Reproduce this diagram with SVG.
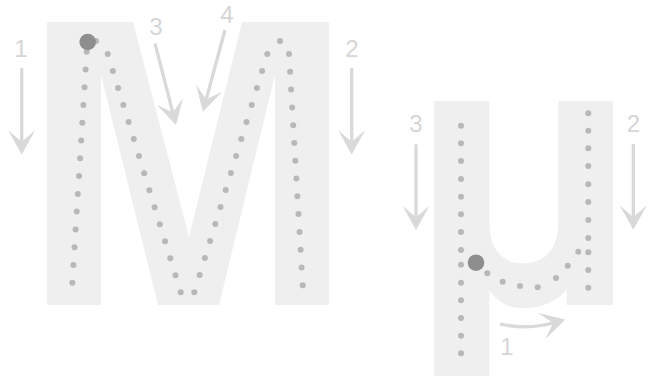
<svg xmlns="http://www.w3.org/2000/svg" width="652" height="377" viewBox="0 0 652 377">
<style>
.glyph{fill:#efefef;stroke:none}
.d circle{fill:#b8b8b8}
.start{fill:#8e8e8e}
.arr{fill:none;stroke:#d9d9d9;stroke-width:3.3;marker-end:url(#ah)}
.num{font-family:"Liberation Sans",Arial,sans-serif;font-size:24px;fill:#d6d6d6;text-anchor:middle}
</style>
<defs>
<marker id="ah" markerUnits="userSpaceOnUse" markerWidth="30" markerHeight="30" viewBox="-12 -13 25 26" refX="0" refY="0" orient="auto">
<path d="M11,0 L-10,-11.7 L0,0 L-10,11.7 Z" fill="#d9d9d9"/>
</marker>
</defs>
<rect width="652" height="377" fill="#ffffff"/>
<g id="letter-M">
<polygon class="glyph" points="47,22 133,22 189,237 242,22 329,22 329,305 275,305 275,75 219,305 158,305 101,75 101,305 47,305"/>
<g class="d">
<circle cx="96" cy="41" r="3"/>
<circle cx="86.7" cy="51.7" r="3"/><circle cx="85.6" cy="69.5" r="3"/><circle cx="84.5" cy="87.2" r="3"/><circle cx="83.4" cy="105" r="3"/><circle cx="82.3" cy="122.8" r="3"/><circle cx="81.2" cy="140.5" r="3"/><circle cx="80.1" cy="158.3" r="3"/><circle cx="79" cy="176.1" r="3"/><circle cx="77.8" cy="193.9" r="3"/><circle cx="76.7" cy="211.6" r="3"/><circle cx="75.6" cy="229.4" r="3"/><circle cx="74.5" cy="247.2" r="3"/><circle cx="73.4" cy="264.9" r="3"/><circle cx="72.3" cy="282.7" r="3"/>
<circle cx="107.7" cy="54" r="3"/><circle cx="112.9" cy="71" r="3"/><circle cx="118.1" cy="88" r="3"/><circle cx="123.3" cy="105.1" r="3"/><circle cx="128.6" cy="122.1" r="3"/><circle cx="133.8" cy="139.1" r="3"/><circle cx="139" cy="156.1" r="3"/><circle cx="144.2" cy="173.2" r="3"/><circle cx="149.4" cy="190.2" r="3"/><circle cx="154.6" cy="207.2" r="3"/><circle cx="159.8" cy="224.2" r="3"/><circle cx="165" cy="241.2" r="3"/><circle cx="170.3" cy="258.3" r="3"/><circle cx="175.5" cy="275.3" r="3"/><circle cx="180.7" cy="292.3" r="3"/>
<circle cx="194.3" cy="292.3" r="3"/>
<circle cx="199.7" cy="275" r="3"/><circle cx="204.9" cy="258" r="3"/><circle cx="210.1" cy="241" r="3"/><circle cx="215.3" cy="224" r="3"/><circle cx="220.5" cy="207" r="3"/><circle cx="225.7" cy="190" r="3"/><circle cx="230.9" cy="173" r="3"/><circle cx="236.1" cy="156" r="3"/><circle cx="241.3" cy="139" r="3"/><circle cx="246.5" cy="122" r="3"/><circle cx="251.7" cy="105" r="3"/><circle cx="256.9" cy="88" r="3"/><circle cx="262.1" cy="71" r="3"/><circle cx="267.3" cy="54" r="3"/>
<circle cx="280" cy="41" r="3"/>
<circle cx="289" cy="54" r="3"/><circle cx="290.1" cy="71.8" r="3"/><circle cx="291.1" cy="89.6" r="3"/><circle cx="292.2" cy="107.4" r="3"/><circle cx="293.2" cy="125.2" r="3"/><circle cx="294.3" cy="143" r="3"/><circle cx="295.3" cy="160.8" r="3"/><circle cx="296.4" cy="178.5" r="3"/><circle cx="297.4" cy="196.3" r="3"/><circle cx="298.5" cy="214.1" r="3"/><circle cx="299.5" cy="231.9" r="3"/><circle cx="300.6" cy="249.7" r="3"/><circle cx="301.6" cy="267.5" r="3"/><circle cx="302.7" cy="285.3" r="3"/>
</g>
<circle class="start" cx="87.7" cy="42" r="8.3"/>
</g>
<g id="letter-mu">
<path class="glyph" d="M434.3,101 L489.3,101 L489.3,222 C489.3,250 503,263.3 523.5,263.3 C544,263.3 558.3,250 558.3,222 L558.3,101 L613,101 L613,305 L566.7,305 L566.7,290 C556,302 540,308.3 523.3,308.3 C507,308.3 496,300 489.3,290 L489.3,376 L434.3,376 Z"/>
<g class="d">
<circle cx="461" cy="125.7" r="3"/><circle cx="461" cy="143.3" r="3"/><circle cx="461" cy="161" r="3"/><circle cx="461" cy="179" r="3"/><circle cx="461" cy="196.7" r="3"/><circle cx="461" cy="214.3" r="3"/><circle cx="461" cy="232" r="3"/><circle cx="461" cy="250" r="3"/><circle cx="461" cy="264.7" r="3"/><circle cx="461" cy="282.7" r="3"/><circle cx="461" cy="300.3" r="3"/><circle cx="461" cy="318" r="3"/><circle cx="461" cy="335.7" r="3"/><circle cx="461" cy="353.3" r="3"/>
<circle cx="487.3" cy="273.3" r="3"/><circle cx="502.7" cy="281.7" r="3"/><circle cx="520" cy="286" r="3"/><circle cx="537.7" cy="287.3" r="3"/><circle cx="556" cy="278" r="3"/><circle cx="567.7" cy="265.7" r="3"/><circle cx="578.3" cy="251.7" r="3"/>
<circle cx="588.3" cy="113.3" r="3"/><circle cx="588.3" cy="130.7" r="3"/><circle cx="588.3" cy="148.3" r="3"/><circle cx="588.3" cy="166" r="3"/><circle cx="588.3" cy="184.3" r="3"/><circle cx="588.3" cy="202" r="3"/><circle cx="588.3" cy="220" r="3"/><circle cx="588.3" cy="238" r="3"/><circle cx="588.3" cy="252.3" r="3"/><circle cx="588.3" cy="270" r="3"/><circle cx="588.3" cy="287.7" r="3"/>
</g>
<circle class="start" cx="476" cy="262.7" r="8.3"/>
</g>
<g id="connectors">
<path class="arr" d="M21.7,68 L21.7,141.7"/>
<path class="arr" d="M351.7,68 L351.7,141.7"/>
<path class="arr" d="M155,43.3 L172.8,112.6"/>
<path class="arr" d="M225,30 L206.2,99.4"/>
<path class="arr" d="M416,144.3 L416,217.3"/>
<path class="arr" d="M633.3,144 L633.3,217"/>
<path class="arr" d="M500,324 Q528,330 553,323"/>
</g>
<g id="labels">
<text class="num" x="21" y="56.5">1</text>
<text class="num" x="352" y="56.5">2</text>
<text class="num" x="156" y="35">3</text>
<text class="num" x="227" y="23.3">4</text>
<text class="num" x="416" y="131.7">3</text>
<text class="num" x="633.5" y="131.7">2</text>
<text class="num" x="507" y="355">1</text>
</g>
</svg>
